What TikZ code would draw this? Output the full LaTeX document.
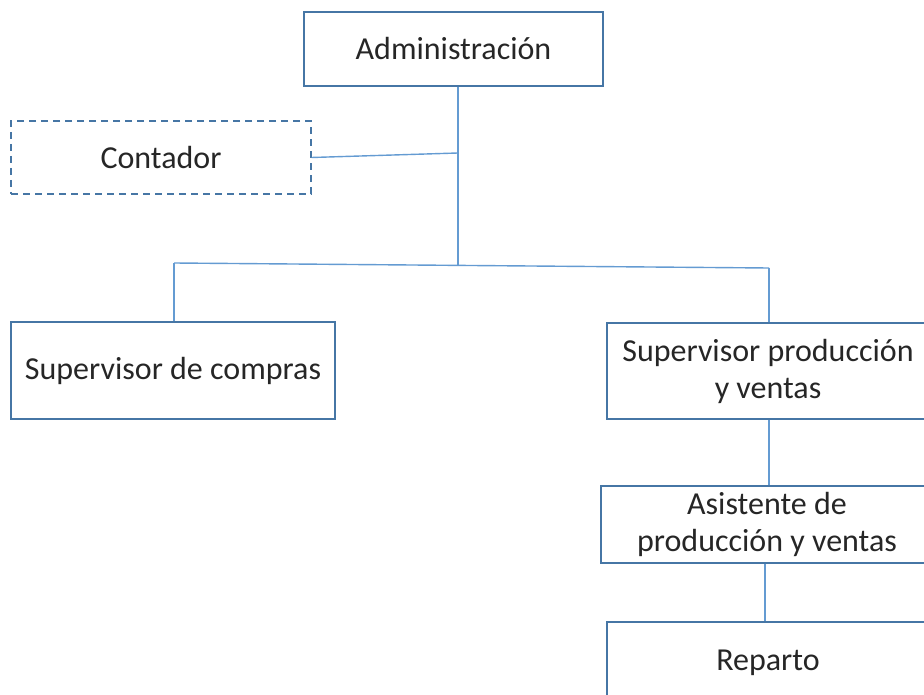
\documentclass[tikz,border=0pt]{standalone}
\usepackage{fontspec}
\setmainfont{Carlito}
\definecolor{boxline}{RGB}{70,118,165}
\definecolor{conline}{RGB}{100,155,210}
\begin{document}
\begin{tikzpicture}[x=1pt,y=-1pt,
  orgbox/.style={draw=boxline,line width=1.3pt,rectangle,inner sep=0pt,
    align=center,font=\fontsize{32}{37}\selectfont,text=black!85},
  dashbox/.style={orgbox,dash pattern=on 7pt off 5pt},
  conn/.style={draw=conline,line width=1.4pt}]
\useasboundingbox (0,0) rectangle (924,695);
\node[orgbox,minimum width=299pt,minimum height=74pt] (adm) at (453.5,49) {Administración};
\node[dashbox,minimum width=300pt,minimum height=73pt] (cont) at (161,157.5) {Contador};
\node[orgbox,minimum width=324pt,minimum height=97pt] (comp) at (173,370.5) {Supervisor de compras};
\node[orgbox,minimum width=322pt,minimum height=96pt] (prod) at (768,371) {Supervisor producción\\y ventas};
\node[orgbox,minimum width=332pt,minimum height=77pt] (asis) at (767,524.5) {Asistente de\\producción y ventas};
\node[orgbox,minimum width=322pt,minimum height=82pt] (rep) at (768,663) {Reparto};
\coordinate (j1) at (458,153);
\coordinate (j2) at (458,265);
\coordinate (hl) at (174,263);
\coordinate (hr) at (769,268);
\coordinate (vp) at (769,0);
\coordinate (va) at (765,0);
\draw[conn] (adm.south -| j1) -- (j2);
\draw[conn] (cont.east) -- (j1);
\draw[conn] (hl) -- (hr);
\draw[conn] (hl) -- (hl |- comp.north);
\draw[conn] (hr) -- (hr |- prod.north);
\draw[conn] (vp |- prod.south) -- (vp |- asis.north);
\draw[conn] (va |- asis.south) -- (va |- rep.north);
\end{tikzpicture}
\end{document}
